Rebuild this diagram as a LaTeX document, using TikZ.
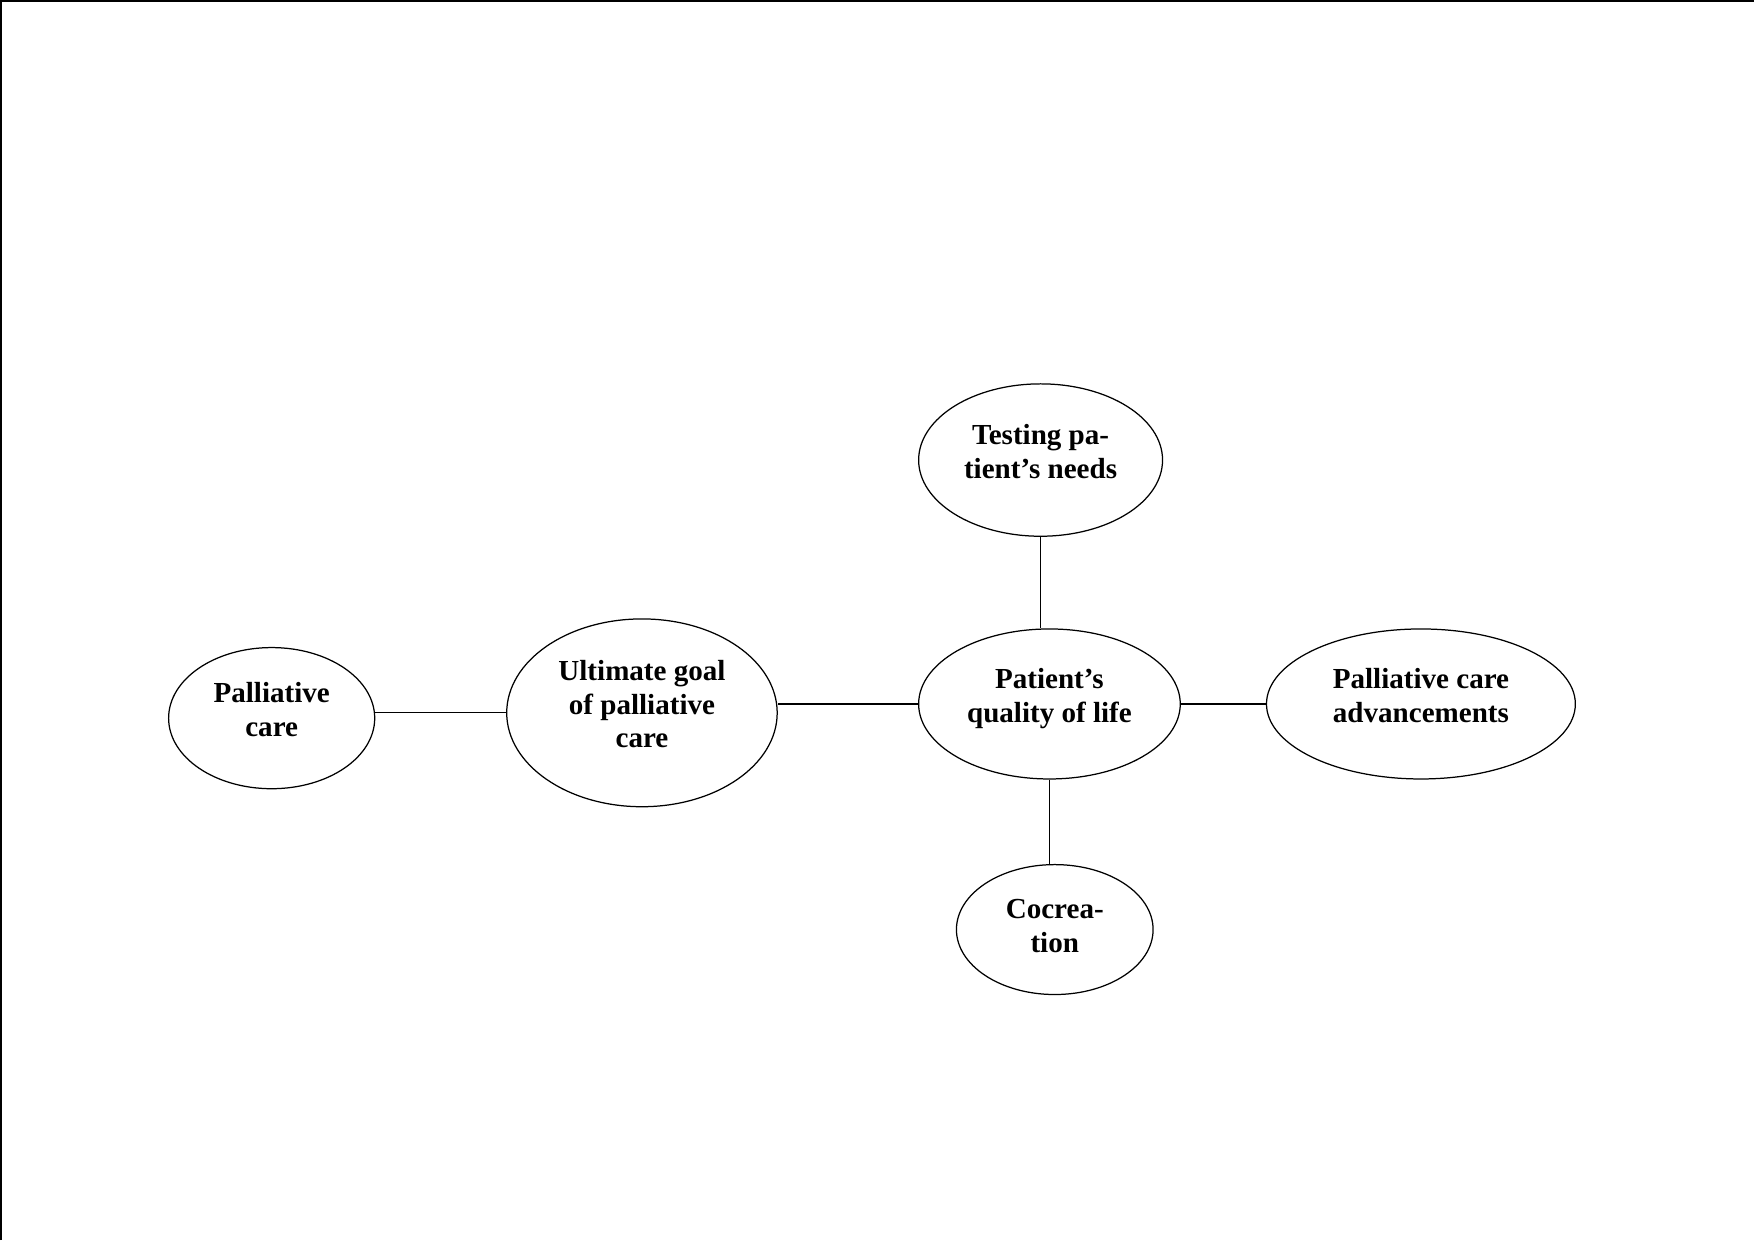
\documentclass[tikz,border=0pt]{standalone}
\usepackage{fontspec}
\setmainfont{Liberation Serif}
\usetikzlibrary{shapes.geometric}

\begin{document}
\begin{tikzpicture}[
            bubble/.style={draw, ellipse, line width=0.6pt, inner sep=0pt, align=center,
              font=\fontsize{14}{16.2}\selectfont\bfseries, text depth=0.3cm},
            link/.style={line width=0.6pt}]
            \useasboundingbox (0,0) rectangle (29.7,21);
            \draw[line width=1pt] (0.02,0) -- (0.02,20.98) -- (29.7,20.98);
            \node[bubble, minimum width=3.49cm, minimum height=2.39cm] (pc) at (4.60,8.84) {Palliative\\care};
            \node[bubble, minimum width=4.58cm, minimum height=3.18cm] (goal) at (10.87,8.93) {Ultimate goal\\of palliative\\care};
            \node[bubble, minimum width=4.43cm, minimum height=2.54cm] (qol) at (17.77,9.08) {Patient’s\\quality of life};
            \node[bubble, minimum width=4.13cm, minimum height=2.58cm] (needs) at (17.62,13.21) {Testing pa-\\tient’s needs};
            \node[bubble, minimum width=5.23cm, minimum height=2.54cm] (adv) at (24.06,9.08) {Palliative care\\advancements};
            \node[bubble, minimum width=3.33cm, minimum height=2.20cm, text depth=0.12cm] (cocr) at (17.86,5.26) {Cocrea-\\tion};
            \draw[link] (goal.west) -- (goal.west -| pc.east);
            \draw[link] (qol.west) -- (qol.west -| goal.east);
            \draw[link] (qol.east) -- (adv.west);
            \draw[link] (needs.south) -- (needs.south |- qol.north);
            \draw[link] (qol.south) -- (qol.south |- cocr.north);
        \end{tikzpicture}
\end{document}
